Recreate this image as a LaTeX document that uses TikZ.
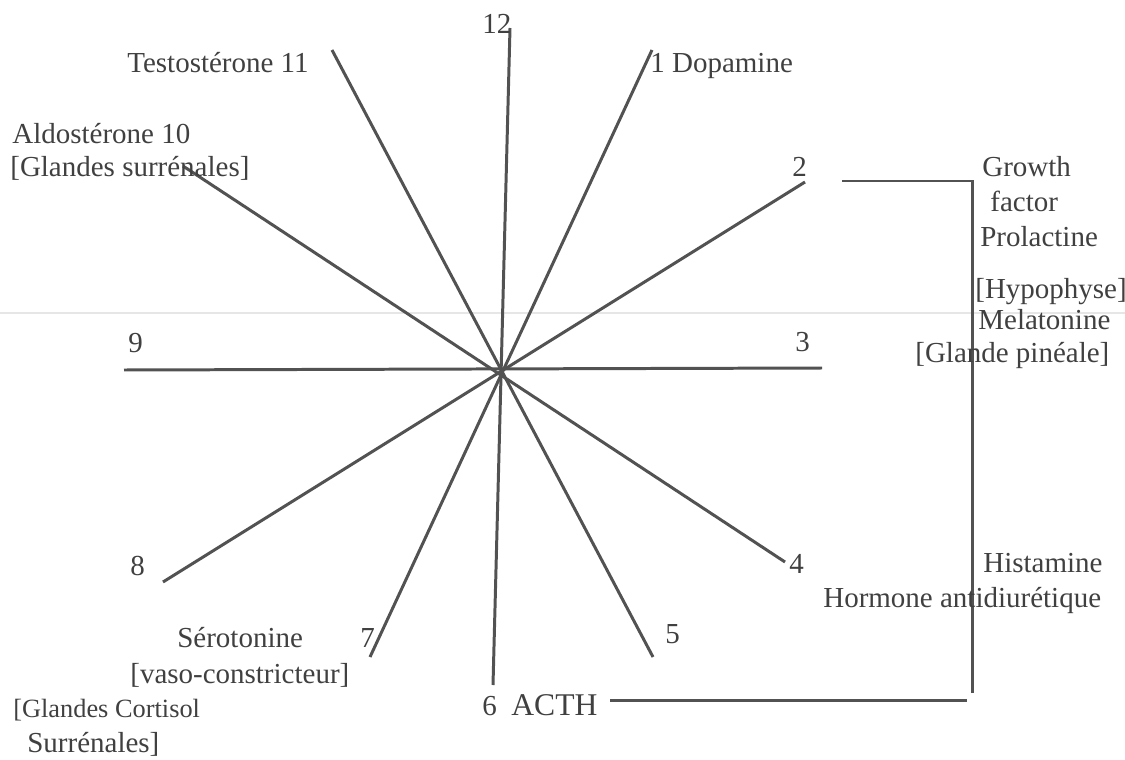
\documentclass[tikz,border=0pt]{standalone}
\usepackage{fontspec}
\setmainfont{Liberation Serif}
\definecolor{ink}{HTML}{404040}
\definecolor{pen}{HTML}{525252}
\definecolor{scan}{HTML}{E6E6E6}
\begin{document}
\begin{tikzpicture}[x=0.02cm,y=-0.02cm,
		every node/.style={anchor=base west,inner sep=0pt,text=ink,font=\fontsize{16.5}{19}\selectfont},
		spoke/.style={draw=pen,line width=1.7pt}]
			\useasboundingbox (0,0) rectangle (1125,760);
			
			\coordinate (f0) at (0,313);
			\coordinate (f1) at (1125,313);
			\draw[scan,line width=1.4pt] (f0)--(f1);
			
			\coordinate (e12) at (510,28);
			\coordinate (e1) at (652,50);
			\coordinate (e2) at (805,182);
			\coordinate (e3) at (822,368);
			\coordinate (e4) at (785,562);
			\coordinate (e5) at (653,657);
			\coordinate (e6) at (493,685);
			\coordinate (e7) at (370,657);
			\coordinate (e8) at (163,582);
			\coordinate (e9) at (124,370);
			\coordinate (e10) at (183,166);
			\coordinate (e11) at (332,50);
			
			\draw[spoke] (e12)--(e6);
			\draw[spoke] (e1)--(e7);
			\draw[spoke] (e2)--(e8);
			\draw[spoke] (e3)--(e9);
			\draw[spoke] (e4)--(e10);
			\draw[spoke] (e5)--(e11);
			
			\coordinate (b1) at (842,181);
			\coordinate (b2) at (972,181);
			\coordinate (b3) at (972,693);
			\coordinate (b4) at (610,700);
			\coordinate (b5) at (967,700);
			\draw[spoke] (b1)--(b2)--(b3);
			\draw[spoke] (b4)--(b5);
			
			\node (n12) at (482,34) {12};
			\node (n1) at (650,73) {1 Dopamine};
			\node (n2) at (792,177) {2};
			\node (n3) at (795,351) {3};
			\node (n4) at (789,573) {4};
			\node (n5) at (665,643) {5};
			\node (n6) at (482,715) {6\hspace{0.5em}{\fontsize{18}{20}\selectfont ACTH}};
			\node (n7) at (360,647) {7};
			\node (n8) at (130,575) {8};
			\node (n9) at (128,352) {9};
			\node (n10) at (12,144) {Aldostérone 10};
			\node (n11) at (127,73) {Testostérone 11};
			
			\node (g1) at (982,177) {Growth};
			\node (g2) at (990,212) {factor};
			\node (g3) at (980,246) {Prolactine};
			\node (g4) at (975,298) {[Hypophyse]};
			\node (g5) at (978,329) {Melatonine};
			\node (g6) at (915,362) {[Glande pinéale]};
			
			\node (h1) at (983,572) {Histamine};
			\node (h2) at (823,607) {Hormone antidiurétique};
			
			\node (a1) at (10,177) {[Glandes surrénales]};
			\node (s1) at (177,647) {Sérotonine};
			\node (s2) at (130,683) {[vaso-constricteur]};
			\node[font=\fontsize{15}{18}\selectfont] (c1) at (13,717) {[Glandes Cortisol};
			\node (c2) at (27,752) {Surrénales]};
		\end{tikzpicture}
\end{document}
